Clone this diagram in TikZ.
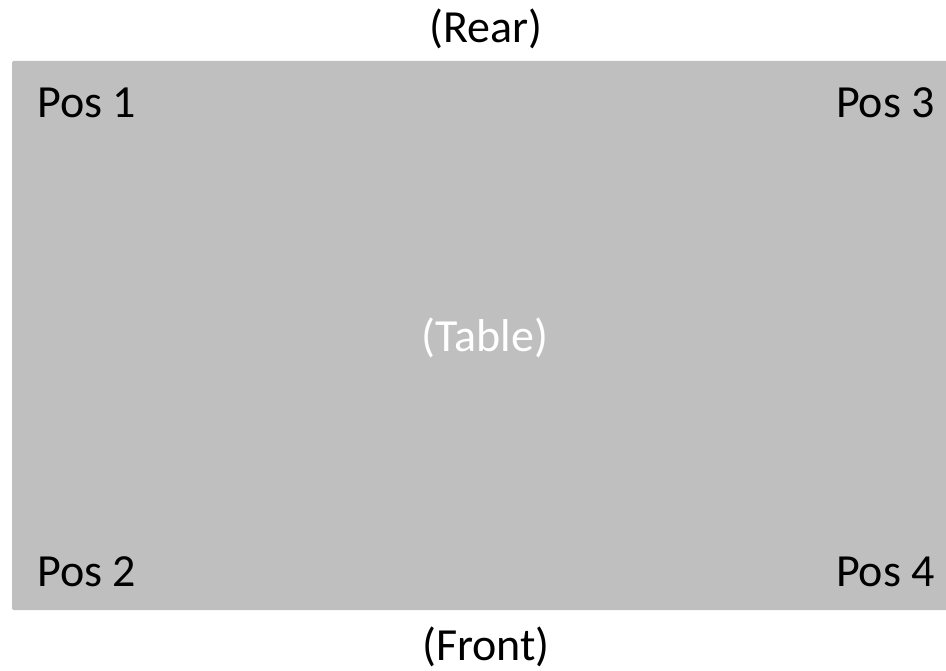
\documentclass[tikz,border=0pt]{standalone}
\usepackage{fontspec}
\setmainfont{Carlito}
\definecolor{tablegray}{HTML}{BFBFBF}
\begin{document}
\begin{tikzpicture}[x=1pt,y=-1pt,
  lbl/.style={inner sep=0pt,font=\fontsize{46}{55}\selectfont,text=black}]
\useasboundingbox (0,0) rectangle (946,671);
\fill[tablegray,rounded corners=1.5pt] (12,61) rectangle (960,610);
\node[lbl,anchor=base west] (p1) at (37,118) {Pos 1};
\node[lbl,anchor=base east] (p3) at (935,118) {Pos 3};
\node[lbl,anchor=base west] (p2) at (37,586) {Pos 2};
\node[lbl,anchor=base east] (p4) at (935,586) {Pos 4};
\node[lbl,anchor=base,text=white] (tab) at (485,352) {(Table)};
\node[lbl,anchor=base] (rear) at (486,43) {(Rear)};
\node[lbl,anchor=base] (front) at (486,660) {(Front)};
\end{tikzpicture}
\end{document}
